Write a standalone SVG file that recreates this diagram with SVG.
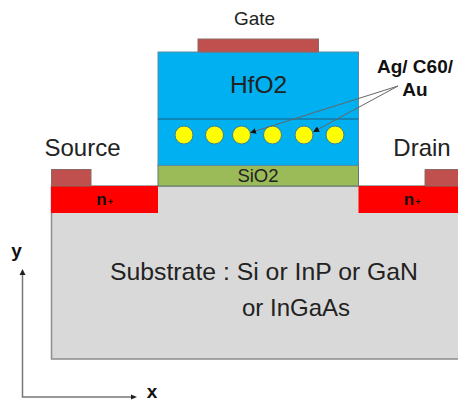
<svg xmlns="http://www.w3.org/2000/svg" width="458" height="402" viewBox="0 0 458 402">
<style>
text{font-family:"Liberation Sans",Arial,sans-serif;fill:#222;text-anchor:middle}
.b{font-weight:bold;fill:#111}
.m{fill:#c0504d;stroke:#8a6a68;stroke-width:1}
.n{fill:#f00}
.d{fill:#ff0;stroke:#3f7f90;stroke-width:1}
.c{fill:none;stroke:#666;stroke-width:1}
.a{fill:none;stroke:#777;stroke-width:1.5}
</style>
<defs>
<marker id="h" markerUnits="userSpaceOnUse" markerWidth="6" markerHeight="6" refX="5" refY="3" orient="auto"><path d="M0 0L6 3L0 6Z" fill="#111"/></marker>
</defs>
<g id="substrate"><path d="M458 186H51.500V359H458" fill="#d9d9d9" stroke="#8c8c8c" stroke-width="1.500"/>
<text x="264" y="280" font-size="24.800" textLength="308" lengthAdjust="spacingAndGlyphs">Substrate : Si or InP or GaN</text>
<text x="296" y="316" font-size="24">or InGaAs</text></g>
<g id="source-n"><rect class="n" x="51" y="186" width="107" height="27"/><text class="b" x="101.500" y="205" font-size="17">n</text><text class="b" x="110.500" y="205" font-size="9">+</text></g>
<g id="drain-n"><rect class="n" x="358.500" y="186" width="99.500" height="27"/><text class="b" x="409" y="205" font-size="17">n</text><text class="b" x="418" y="205" font-size="9">+</text></g>
<g id="source"><rect class="m" x="51.500" y="169.500" width="39.500" height="16.500"/><text x="82.500" y="155.500" font-size="24">Source</text></g>
<g id="drain"><path d="M458 169.500H425V186H458" fill="#c0504d" stroke="#8a6a68"/><text x="422" y="155.500" font-size="24">Drain</text></g>
<g id="sio2"><rect x="158" y="165.500" width="200.500" height="20.500" fill="#9bbb59" stroke="#5c7a70"/><text x="258" y="181.500" font-size="18.500">SiO2</text></g>
<g id="hfo2"><rect x="158" y="52" width="200.500" height="113.500" fill="#00b0f0" stroke="#5c8aa0"/><line x1="158" y1="119" x2="358.500" y2="119" stroke="#1c5f80"/><text x="258.500" y="92.500" font-size="24.500">HfO2</text></g>
<g id="gate"><rect class="m" x="198" y="39" width="120.500" height="13"/><text x="254.500" y="25" font-size="19">Gate</text></g>
<g id="particles"><circle class="d" cx="184" cy="135" r="9"/><circle class="d" cx="214.500" cy="135" r="9"/><circle class="d" cx="241.500" cy="135" r="9"/><circle class="d" cx="272.500" cy="135" r="9"/><circle class="d" cx="304" cy="135" r="9"/><circle class="d" cx="335" cy="135" r="9"/></g>
<g id="label"><text class="b" x="415" y="73" font-size="19">Ag/ C60/</text><text class="b" x="415" y="96" font-size="19">Au</text></g>
<g id="connectors">
<line class="c" x1="398" y1="86" x2="251" y2="132.500" marker-end="url(#h)"/>
<line class="c" x1="398" y1="86" x2="314" y2="131.500" marker-end="url(#h)"/>
<path class="a" d="M22.500 272V397H133" />
<path d="M22.500 269L25.500 275H19.500Z" fill="#222"/>
<path d="M137 397L131 394.500V399.500Z" fill="#222"/>
</g>
<g id="axes"><text class="b" x="16.500" y="257" font-size="19">y</text><text class="b" x="152" y="397.500" font-size="19">x</text></g>
</svg>
